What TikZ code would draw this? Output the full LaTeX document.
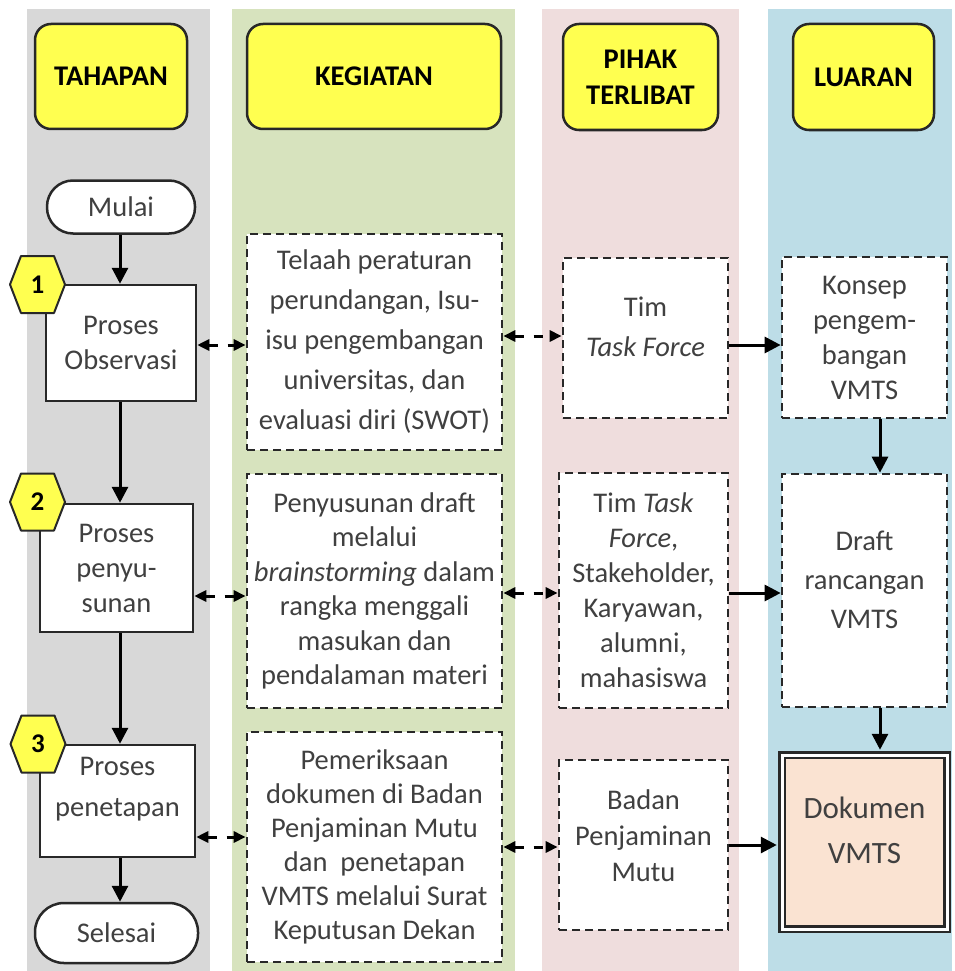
\documentclass[tikz,border=0pt]{standalone}
\usepackage{fontspec}
\setmainfont{Carlito}
\usetikzlibrary{arrows.meta}
\definecolor{colgray}{RGB}{216,216,216}
\definecolor{colgreen}{RGB}{215,227,190}
\definecolor{colpink}{RGB}{239,221,221}
\definecolor{colblue}{RGB}{189,221,231}
\definecolor{hdryellow}{RGB}{255,255,80}
\definecolor{peach}{RGB}{250,227,210}
\definecolor{txtgray}{RGB}{64,64,64}
\definecolor{edge}{RGB}{40,40,40}
\begin{document}
\begin{tikzpicture}[x=1pt,y=-1pt,
  hdr/.style={draw=edge, line width=2.5pt, rounded corners=16pt, fill=hdryellow, align=center,
    font=\fontsize{28.5}{36}\selectfont\bfseries, text=black, inner sep=0pt},
  term/.style={draw=edge, line width=2.5pt, rounded corners=26pt, fill=white,
    font=\fontsize{28.5}{35}\selectfont, text=txtgray, inner sep=0pt},
  proc/.style={draw=edge, line width=2.5pt, fill=white, align=center,
    font=\fontsize{28.5}{35}\selectfont, text=txtgray, inner sep=0pt},
  dbox/.style={draw=edge, line width=2.7pt, dash pattern=on 8pt off 5pt, fill=white, align=center,
    font=\fontsize{28.5}{35}\selectfont, text=txtgray, inner sep=0pt},
  txt/.style={align=center, font=\fontsize{28.5}{35}\selectfont, text=txtgray, inner sep=0pt},
  num/.style={font=\fontsize{27}{30}\selectfont\bfseries, text=black, inner sep=0pt},
  hexa/.style={draw=edge, line width=2pt, fill=hdryellow, line join=round},
  arr/.style={draw=black, line width=3pt, -{Triangle[length=16pt,width=16pt]}},
  darr/.style={draw=black, line width=3pt, dash pattern=on 9pt off 10pt,
    {Triangle[length=12pt,width=11pt]}-{Triangle[length=12pt,width=11pt]}}
]
\useasboundingbox (0,0) rectangle (954,971);
\fill[white] (0,0) rectangle (954,971);
% column backgrounds
\fill[colgray]  (27,9) rectangle (210,971);
\fill[colgreen] (232,9) rectangle (515,971);
\fill[colpink]  (542,9) rectangle (739,971);
\fill[colblue]  (768,9) rectangle (952,971);

% headers
\node[hdr, minimum width=152pt, minimum height=105pt] (hT) at (111,76.5) {TAHAPAN};
\node[hdr, minimum width=254pt, minimum height=105pt] (hK) at (374,76.5) {KEGIATAN};
\node[hdr, minimum width=155pt, minimum height=106pt] (hP) at (640.5,77) {PIHAK\\TERLIBAT};
\node[hdr, minimum width=141pt, minimum height=106pt] (hL) at (863.5,77) {LUARAN};

% TAHAPAN column
\coordinate (xT) at (120,0);
\node[term, minimum width=148pt, minimum height=53pt] (mulai) at (121,207) {Mulai};
\node[proc, minimum width=150pt, minimum height=116pt] (t1) at (121,343) {Proses\\Observasi};
\node[proc, minimum width=153pt, minimum height=128pt] (t2) at (116.5,568) {Proses\\penyu-\\sunan};
\node[proc, minimum width=155pt, minimum height=112pt] (t3) at (117.5,801) {};
\node[txt, font=\fontsize{28.5}{41}\selectfont] (t3t) at (117.5,789) {Proses\\penetapan};
\node[term, minimum width=163pt, minimum height=60pt, rounded corners=29pt] (selesai) at (116.5,933) {Selesai};

% step badges
\foreach \n/\cx/\cy in {1/37.5/284.5, 2/37.5/502, 3/38/744}{
  \coordinate (c\n) at (\cx,\cy);
  \draw[hexa] ([shift={(-27.5,0)}]c\n) -- ([shift={(-16.5,-28.5)}]c\n) -- ([shift={(16.5,-28.5)}]c\n)
    -- ([shift={(27.5,0)}]c\n) -- ([shift={(16.5,28.5)}]c\n) -- ([shift={(-16.5,28.5)}]c\n) -- cycle;
  \node[num] (n\n) at (c\n) {\n};
}

% KEGIATAN column
\node[dbox, minimum width=255pt, minimum height=216pt, font=\fontsize{28.5}{40}\selectfont] (k1) at (374.5,342)
  {Telaah peraturan\\perundangan, Isu-\\isu pengembangan\\universitas, dan\\evaluasi diri (SWOT)};
\node[dbox, minimum width=255pt, minimum height=234pt, font=\fontsize{28.5}{34.5}\selectfont] (k2) at (374.5,591)
  {Penyusunan draft\\melalui\\\textit{brainstorming} dalam\\rangka menggali\\masukan dan\\pendalaman materi};
\node[dbox, minimum width=255pt, minimum height=230pt, font=\fontsize{28.5}{34}\selectfont] (k3) at (374.5,847)
  {Pemeriksaan\\dokumen di Badan\\Penjaminan Mutu\\dan \ penetapan\\VMTS melalui Surat\\Keputusan Dekan};

% PIHAK TERLIBAT column
\node[dbox, minimum width=165pt, minimum height=160pt] (p1) at (645.5,338) {};
\node[txt, font=\fontsize{28.5}{40}\selectfont] (p1t) at (645.5,327) {Tim\\\textit{Task Force}};
\node[dbox, minimum width=169pt, minimum height=235pt] (p2) at (643.5,590.5)
  {Tim \textit{Task}\\\textit{Force},\\Stakeholder,\\Karyawan,\\alumni,\\mahasiswa};
\node[dbox, minimum width=169pt, minimum height=170pt] (p3) at (643.5,845) {};
\node[txt, font=\fontsize{28.5}{36}\selectfont] (p3t) at (643.5,836) {Badan\\Penjaminan\\Mutu};

% LUARAN column
\node[dbox, minimum width=165pt, minimum height=161pt] (l1) at (864.5,337.5) {Konsep\\pengem-\\bangan\\VMTS};
\node[dbox, minimum width=165pt, minimum height=233pt] (l2) at (864.5,590.5) {};
\node[txt, font=\fontsize{28.5}{39}\selectfont] (l2t) at (864.5,580) {Draft\\rancangan\\VMTS};
\node[draw=edge, line width=2.5pt, double=white, double distance=3pt, fill=peach,
      minimum width=165pt, minimum height=174pt, inner sep=0pt] (l3) at (864.5,842) {};
\node[txt, font=\fontsize{31}{45}\selectfont] (l3t) at (864.5,830) {Dokumen\\VMTS};

% vertical flow
\draw[arr] (mulai.south -| xT) -- (t1.north -| xT);
\draw[arr] (t1.south -| xT) -- (t2.north -| xT);
\draw[arr] (t2.south -| xT) -- (t3.north -| xT);
\draw[arr] (t3.south -| xT) -- (selesai.north -| xT);
\coordinate (xL) at (880,0);
\draw[arr] (l1.south -| xL) -- (l2.north -| xL);
\draw[arr] (l2.south -| xL) -- ([yshift=4pt]l3.north -| xL);

% row 1
\draw[darr] (t1.east |- 0,345) -- (k1.west |- 0,345);
\draw[darr] (k1.east |- 0,336) -- (p1.west |- 0,336);
\draw[arr]  (p1.east |- 0,345) -- (l1.west |- 0,345);
% row 2
\draw[darr] (t2.east |- 0,596) -- (k2.west |- 0,596);
\draw[darr] (k2.east |- 0,593) -- (p2.west |- 0,593);
\draw[arr]  (p2.east |- 0,593) -- (l2.west |- 0,593);
% row 3
\draw[darr] (t3.east |- 0,837) -- (k3.west |- 0,837);
\draw[darr] (k3.east |- 0,847) -- (p3.west |- 0,847);
\draw[arr]  (p3.east |- 0,845) -- ([xshift=-4pt]l3.west |- 0,845);
\end{tikzpicture}
\end{document}
